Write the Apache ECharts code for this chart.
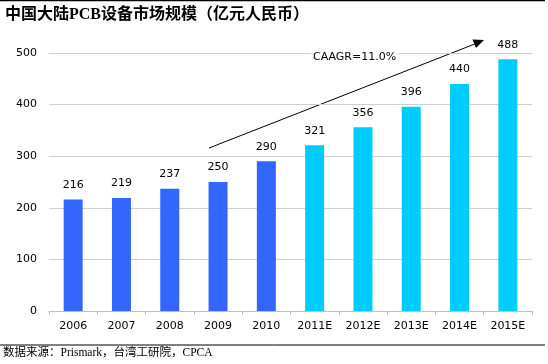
<!DOCTYPE html>
<html>
<head>
<meta charset="utf-8">
<script src="https://cdn.jsdelivr.net/npm/echarts@6/dist/echarts.min.js"></script>
<style>html,body{margin:0;padding:0;background:#fff}#c{width:548px;height:364px}</style>
</head>
<body>
<div id="c"></div>
<script>
const categories = ['2006','2007','2008','2009','2010','2011E','2012E','2013E','2014E','2015E'];
const values = [216,219,237,250,290,321,356,396,440,488];
const actualCount = 5;
const yTicks = [0,100,200,300,400,500];
const titleText = '中国大陆PCB设备市场规模（亿元人民币）';
const sourceText = '数据来源：Prismark，台湾工研院，CPCA';
const cagrText = 'CAAGR=11.0%';

const darkBlue = '#3366ff', cyan = '#00ccff';
const chart = echarts.init(document.getElementById('c'), null, {renderer:'canvas'});
const font = 'DejaVu Sans';
chart.setOption({
  backgroundColor:'#fff',
  animation:false,
  grid:{left:49,right:16,top:53,bottom:53},
  xAxis:{type:'category',data:categories,
    axisLine:{lineStyle:{color:'#bfbfbf'}},
    axisTick:{show:true,alignWithLabel:false,length:4,lineStyle:{color:'#bfbfbf'}},
    axisLabel:{color:'#000',fontFamily:font,fontSize:11,margin:10}},
  yAxis:{type:'value',min:yTicks[0],max:yTicks[yTicks.length-1],interval:100,
    axisLine:{show:false},axisTick:{show:false},
    splitLine:{lineStyle:{color:'#cfcfcf'}},
    axisLabel:{color:'#000',fontFamily:font,fontSize:11,margin:12}},
  series:[{type:'bar',barWidth:19,
    data:values.map((v,i)=>({value:v,itemStyle:{color:i<actualCount?darkBlue:cyan}})),
    label:{show:true,position:'top',distance:8,color:'#000',fontFamily:font,fontSize:11,
      backgroundColor:'#fff',padding:[1,3]}}],
  graphic:[
    {type:'line',shape:{x1:0,y1:0.5,x2:545,y2:0.5},style:{stroke:'#000',lineWidth:1.5}},
    {type:'line',shape:{x1:0,y1:345,x2:545,y2:345},style:{stroke:'#000',lineWidth:1}},
    {type:'text',left:5,top:7,style:{text:titleText,font:'bold 16px "Liberation Serif","Noto Sans CJK SC"',fill:'#000'}},
    {type:'text',left:3,top:347,style:{text:sourceText,font:'11.5px "Liberation Serif","Noto Sans CJK SC"',fill:'#000'}},
    {type:'line',shape:{x1:209,y1:148,x2:476,y2:43.5},style:{stroke:'#000',lineWidth:1}},
    {type:'polygon',shape:{points:[[484,40],[472.5,39.5],[476,48]]},style:{fill:'#000'}},
    {type:'text',left:311,top:51,z:10,style:{text:cagrText,font:'11px "DejaVu Sans"',fill:'#000',backgroundColor:'#fff',padding:[1,2]}}
  ]
});
</script>
</body>
</html>
